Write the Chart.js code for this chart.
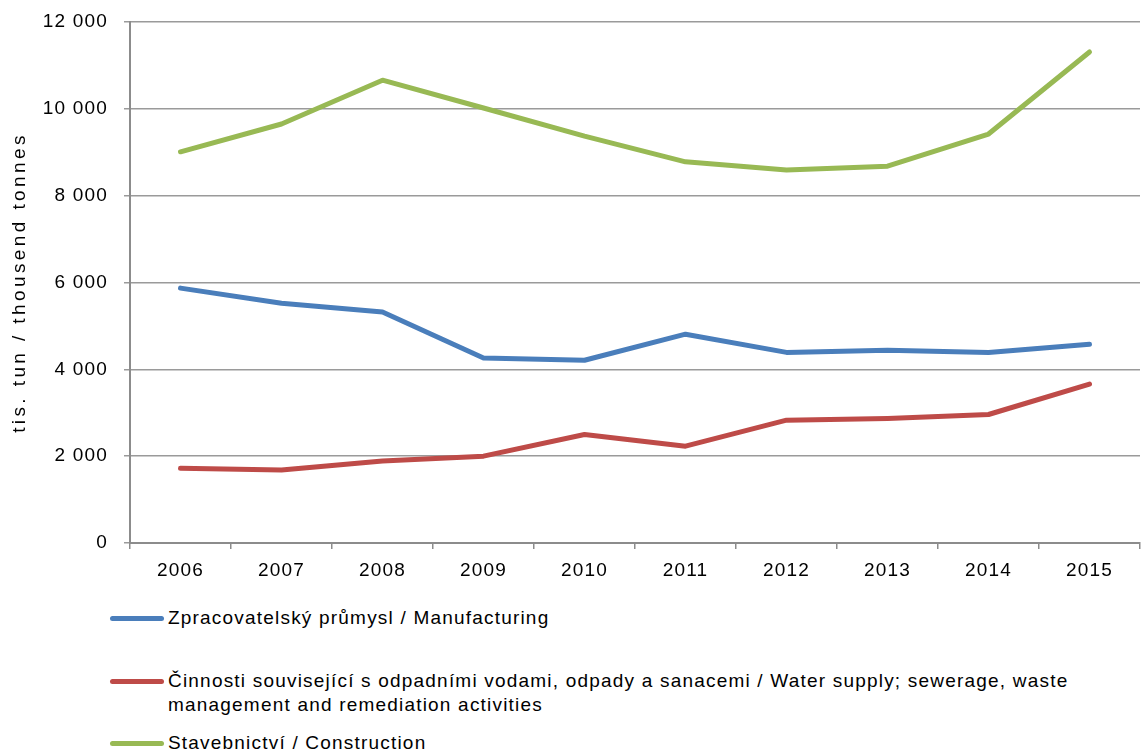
<!DOCTYPE html>
<html>
<head>
<meta charset="utf-8">
<script src="https://cdn.jsdelivr.net/npm/chart.js@4"></script>
<style>
    html, body { margin: 0; padding: 0; background: #fff; }
    #wrap { position: relative; width: 1145px; height: 753px; font-family: "Liberation Sans", Arial, sans-serif; }
    #chartBox { position: absolute; left: 0; top: 0; width: 1145px; height: 600px; }
    #legend { position: absolute; left: 110px; top: 0; width: 1030px; }
    .item { position: absolute; left: 0; display: flex; align-items: flex-start; }
    .sw { width: 54px; height: 5px; border-radius: 3px; margin-right: 4px; flex: none; }
    .txt { font-size: 19px; line-height: 24px; color: #000; white-space: pre-line; letter-spacing: 1.2px; }
</style>
</head>
<body>
<div id="wrap">
    <div id="chartBox"><canvas id="myChart"></canvas></div>
    <div id="legend"></div>
</div>
<script>
const years = ['2006', '2007', '2008', '2009', '2010', '2011', '2012', '2013', '2014', '2015'];
const manufacturing = [5870, 5520, 5320, 4260, 4210, 4810, 4390, 4440, 4390, 4580];
const waterWaste = [1720, 1680, 1890, 2000, 2500, 2230, 2830, 2870, 2960, 3660];
const construction = [9010, 9650, 10660, 10020, 9370, 8780, 8590, 8680, 9420, 11310];
const seriesNames = [
    'Zpracovatelský průmysl / Manufacturing',
    'Činnosti související s odpadními vodami, odpady a sanacemi / Water supply; sewerage, waste\nmanagement and remediation activities',
    'Stavebnictví / Construction'
];
const seriesColors = ['#4a7ebb', '#be4b48', '#98b954'];
const legendRowsY = [606, 669, 731]; // top of each legend text block

const fmt = v => String(v).replace(/\B(?=(\d{3})+(?!\d))/g, ' ');

const ds = [manufacturing, waterWaste, construction].map((d, i) => ({
    label: seriesNames[i],
    data: d,
    borderColor: seriesColors[i],
    backgroundColor: seriesColors[i],
    borderWidth: 5,
    pointRadius: 0,
    borderCapStyle: 'round',
    borderJoinStyle: 'round',
    tension: 0
}));

// the original has loosely spaced text; canvas letterSpacing gets close
const spacing = {
    id: 'spacing',
    beforeDraw(chart) {
        chart.ctx.letterSpacing = '1.2px';
        const y = chart.scales.y;
        if (y && !y._spaced) {
            const orig = y.drawTitle.bind(y);
            y.drawTitle = function () {
                const c = this.ctx;
                c.save();
                c.letterSpacing = '3.4px';
                orig();
                c.restore();
            };
            y._spaced = true;
        }
    }
};

const ctx = document.getElementById('myChart').getContext('2d');
const chart = new Chart(ctx, {
    type: 'line',
    data: { labels: years, datasets: ds },
    options: {
        responsive: true,
        maintainAspectRatio: false,
        animation: false,
        layout: { padding: { top: 22, right: 5, left: 0, bottom: 0 } },
        plugins: { legend: { display: false }, tooltip: { enabled: false } },
        scales: {
            x: {
                offset: true,
                grid: { offset: true, drawOnChartArea: false, color: '#8c8c8c', lineWidth: 1.5, tickLength: 6 },
                border: { color: '#8c8c8c', width: 2 },
                ticks: { color: '#000', font: { family: 'Liberation Sans', size: 19 }, padding: 10, maxRotation: 0 },
                afterFit: s => { s.height = 57; }
            },
            y: {
                min: 0,
                max: 12000,
                grid: { color: '#9a9a9a', lineWidth: 1.5, tickLength: 6 },
                border: { color: '#8c8c8c', width: 2 },
                ticks: { stepSize: 2000, color: '#000', font: { family: 'Liberation Sans', size: 19 }, padding: 16, callback: v => fmt(v) },
                title: { display: true, text: 'tis. tun / thousend tonnes', color: '#000', font: { family: 'Liberation Sans', size: 19 }, padding: { top: 8, bottom: 0 } },
                afterFit: s => { s.width = 130; s.paddingTop = 0; s.paddingBottom = 0; }
            }
        }
    },
    plugins: [spacing]
});

// legend below the chart
const legend = document.getElementById('legend');
seriesNames.forEach((name, i) => {
    const item = document.createElement('div');
    item.className = 'item';
    item.style.top = legendRowsY[i] + 'px';
    const sw = document.createElement('div');
    sw.className = 'sw';
    sw.style.background = seriesColors[i];
    sw.style.marginTop = '10px';
    const txt = document.createElement('div');
    txt.className = 'txt';
    txt.textContent = name;
    item.appendChild(sw);
    item.appendChild(txt);
    legend.appendChild(item);
});

window.Chart = Chart;
</script>
</body>
</html>
